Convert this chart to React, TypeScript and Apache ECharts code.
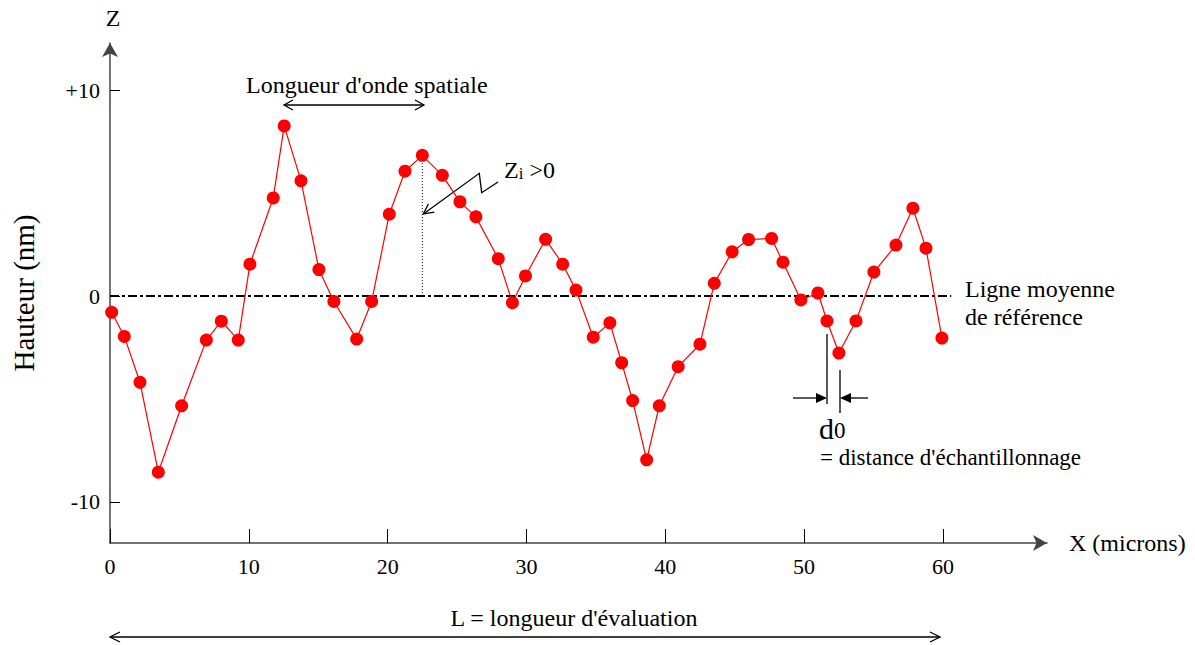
import React, { useEffect, useRef } from "react";
import * as echarts from "echarts";

const xValues = [
  0.12, 1.03, 2.16, 3.48, 5.16, 6.94, 8.02, 9.24, 10.08, 11.76, 12.55, 13.76, 15.05, 16.13, 17.77, 18.85,
  20.12, 21.25, 22.5, 23.94, 25.21, 26.36, 27.97, 28.99, 29.93, 31.38, 32.61, 33.57, 34.81, 36.01, 36.86,
  37.65, 38.66, 39.57, 40.93, 42.5, 43.53, 44.82, 46.0, 47.66, 48.48, 49.77, 51.0, 51.65, 52.51, 53.74,
  55.03, 56.62, 57.84, 58.78, 59.93,
];
const zValues = [
  -0.79, -1.96, -4.19, -8.56, -5.33, -2.14, -1.22, -2.14, 1.55, 4.77, 8.27, 5.6, 1.29, -0.26, -2.09, -0.26,
  3.98, 6.07, 6.84, 5.87, 4.58, 3.85, 1.82, -0.32, 0.98, 2.76, 1.55, 0.29, -2.0, -1.3, -3.24,
  -5.08, -7.96, -5.33, -3.43, -2.34, 0.62, 2.15, 2.75, 2.8, 1.65, -0.19, 0.15, -1.21, -2.77, -1.21,
  1.17, 2.48, 4.27, 2.33, -2.04,
];
const xTickValues = [0, 10, 20, 30, 40, 50, 60];
const zTickValues = [-10, 0, 10];
const meanLineX = [0, 60.6];
const peakIndex = 18;

const FONT = "Liberation Serif";

function chevron(x: number, y: number, dx: number, dy: number, len = 10, half = 5) {
  const n = Math.hypot(dx, dy);
  const ux = dx / n, uy = dy / n;
  const px = -uy, py = ux;
  const bx = x - ux * len, by = y - uy * len;
  return [[bx + px * half, by + py * half], [x, y], [bx - px * half, by - py * half]];
}

export default function App() {
  const ref = useRef<HTMLDivElement>(null);
  useEffect(() => {
    const chart = echarts.init(ref.current!, null, { renderer: "svg" });
    const lineStyleBlack = { stroke: "#000", lineWidth: 1.3, fill: null as any };
    const txt = (x: number, y: number, text: string, size: number, align = "left", extra: any = {}) => ({
      type: "text",
      x,
      y,
      style: { text, fontFamily: FONT, fontSize: size, fill: "#000", align, verticalAlign: "middle", ...extra },
    });
    chart.setOption({
      animation: false,
      backgroundColor: "#fff",
      grid: { left: 110, top: 43, width: 937, height: 500 },
      xAxis: {
        type: "value",
        min: 0,
        max: 67.5,
        interval: 10,
        name: "X (microns)",
        nameLocation: "end",
        nameGap: 22,
        nameTextStyle: { fontFamily: FONT, fontSize: 24, color: "#000", verticalAlign: "middle" },
        splitLine: { show: false },
        axisLine: {
          onZero: false,
          lineStyle: { color: "#444", width: 1.5 },
          symbol: ["none", "arrow"],
          symbolSize: [12, 14],
        },
        axisTick: { inside: true, length: 14, customValues: xTickValues, lineStyle: { color: "#000", width: 1 } },
        axisLabel: { customValues: xTickValues, margin: 12, fontFamily: FONT, fontSize: 22, color: "#000" },
      },
      yAxis: {
        type: "value",
        min: -12,
        max: 12.3,
        interval: 10,
        name: "Hauteur (nm)",
        nameLocation: "middle",
        nameRotate: 90,
        nameGap: 72,
        nameTextStyle: { fontFamily: FONT, fontSize: 29, color: "#000" },
        splitLine: { show: false },
        axisLine: {
          show: true,
          onZero: false,
          lineStyle: { color: "#444", width: 1.5 },
          symbol: ["none", "arrow"],
          symbolSize: [12, 14],
        },
        axisTick: { show: true, inside: true, length: 10, customValues: zTickValues, lineStyle: { color: "#000", width: 1 } },
        axisLabel: {
          customValues: zTickValues,
          margin: 10,
          fontFamily: FONT,
          fontSize: 22,
          color: "#000",
          formatter: (v: number) => (v > 0 ? "+" + v : String(v)),
        },
      },
      series: [
        {
          type: "line",
          data: meanLineX.map((x) => [x, 0]),
          symbol: "none",
          lineStyle: { color: "#000", width: 2, type: [9, 3, 3, 3] },
          z: 1,
        },
        {
          type: "line",
          data: [
            [xValues[peakIndex], 0],
            [xValues[peakIndex], zValues[peakIndex]],
          ],
          symbol: "none",
          lineStyle: { color: "#000", width: 1, type: [1, 2] },
          z: 1,
        },
        {
          type: "line",
          data: xValues.map((x, i) => [x, zValues[i]]),
          symbol: "circle",
          symbolSize: 13,
          itemStyle: { color: "#ff0000" },
          lineStyle: { color: "#ff0000", width: 1.2 },
          z: 3,
        },
      ],
      graphic: [
        txt(113, 18, "Z", 24, "center"),
        txt(246, 85, "Longueur d'onde spatiale", 24),
        { type: "line", shape: { x1: 284, y1: 105, x2: 424, y2: 105 }, style: lineStyleBlack },
        { type: "polyline", shape: { points: chevron(284, 105, -1, 0, 9, 5) }, style: lineStyleBlack },
        { type: "polyline", shape: { points: chevron(424, 105, 1, 0, 9, 5) }, style: lineStyleBlack },
        {
          type: "text",
          x: 504,
          y: 170,
          style: {
            text: "{a|Z}{b|i}{a| >0}",
            fontFamily: FONT,
            verticalAlign: "middle",
            rich: {
              a: { fontFamily: FONT, fontSize: 24, fill: "#000" },
              b: { fontFamily: FONT, fontSize: 17, fill: "#000", padding: [7, 0, 0, 0] },
            },
          },
        },
        {
          type: "polyline",
          shape: { points: [[498, 182], [481.7, 192.7], [479.3, 173.3], [423.3, 214]] },
          style: lineStyleBlack,
        },
        { type: "polyline", shape: { points: chevron(423.3, 214, -56, 41, 10, 5) }, style: lineStyleBlack },
        txt(965, 289, "Ligne moyenne", 24),
        txt(965, 317, "de référence", 24),
        { type: "line", shape: { x1: 827, y1: 334, x2: 827, y2: 404 }, style: lineStyleBlack },
        { type: "line", shape: { x1: 840, y1: 370, x2: 840, y2: 413 }, style: lineStyleBlack },
        { type: "line", shape: { x1: 793, y1: 398, x2: 818, y2: 398 }, style: lineStyleBlack },
        { type: "line", shape: { x1: 849, y1: 398, x2: 868, y2: 398 }, style: lineStyleBlack },
        { type: "polygon", shape: { points: chevron(827, 398, 1, 0, 11, 5) }, style: { fill: "#000" } },
        { type: "polygon", shape: { points: chevron(840, 398, -1, 0, 11, 5) }, style: { fill: "#000" } },
        {
          type: "text",
          x: 819,
          y: 428,
          style: {
            text: "{a|d}{b|0}",
            fontFamily: FONT,
            verticalAlign: "middle",
            rich: {
              a: { fontFamily: FONT, fontSize: 30, fill: "#000" },
              b: { fontFamily: FONT, fontSize: 23, fill: "#000", padding: [5, 0, 0, 0] },
            },
          },
        },
        txt(820, 457, "= distance d'échantillonnage", 23),
        txt(574, 618, "L = longueur d'évaluation", 24, "center"),
        { type: "line", shape: { x1: 110, y1: 637, x2: 940, y2: 637 }, style: lineStyleBlack },
        { type: "polyline", shape: { points: chevron(110, 637, -1, 0, 10, 5) }, style: lineStyleBlack },
        { type: "polyline", shape: { points: chevron(940, 637, 1, 0, 10, 5) }, style: lineStyleBlack },
      ],
    });
    return () => chart.dispose();
  }, []);
  return (
    <div
      ref={ref}
      style={{ position: "fixed", left: 0, top: 0, width: 1195, height: 645, background: "#fff" }}
    />
  );
}
